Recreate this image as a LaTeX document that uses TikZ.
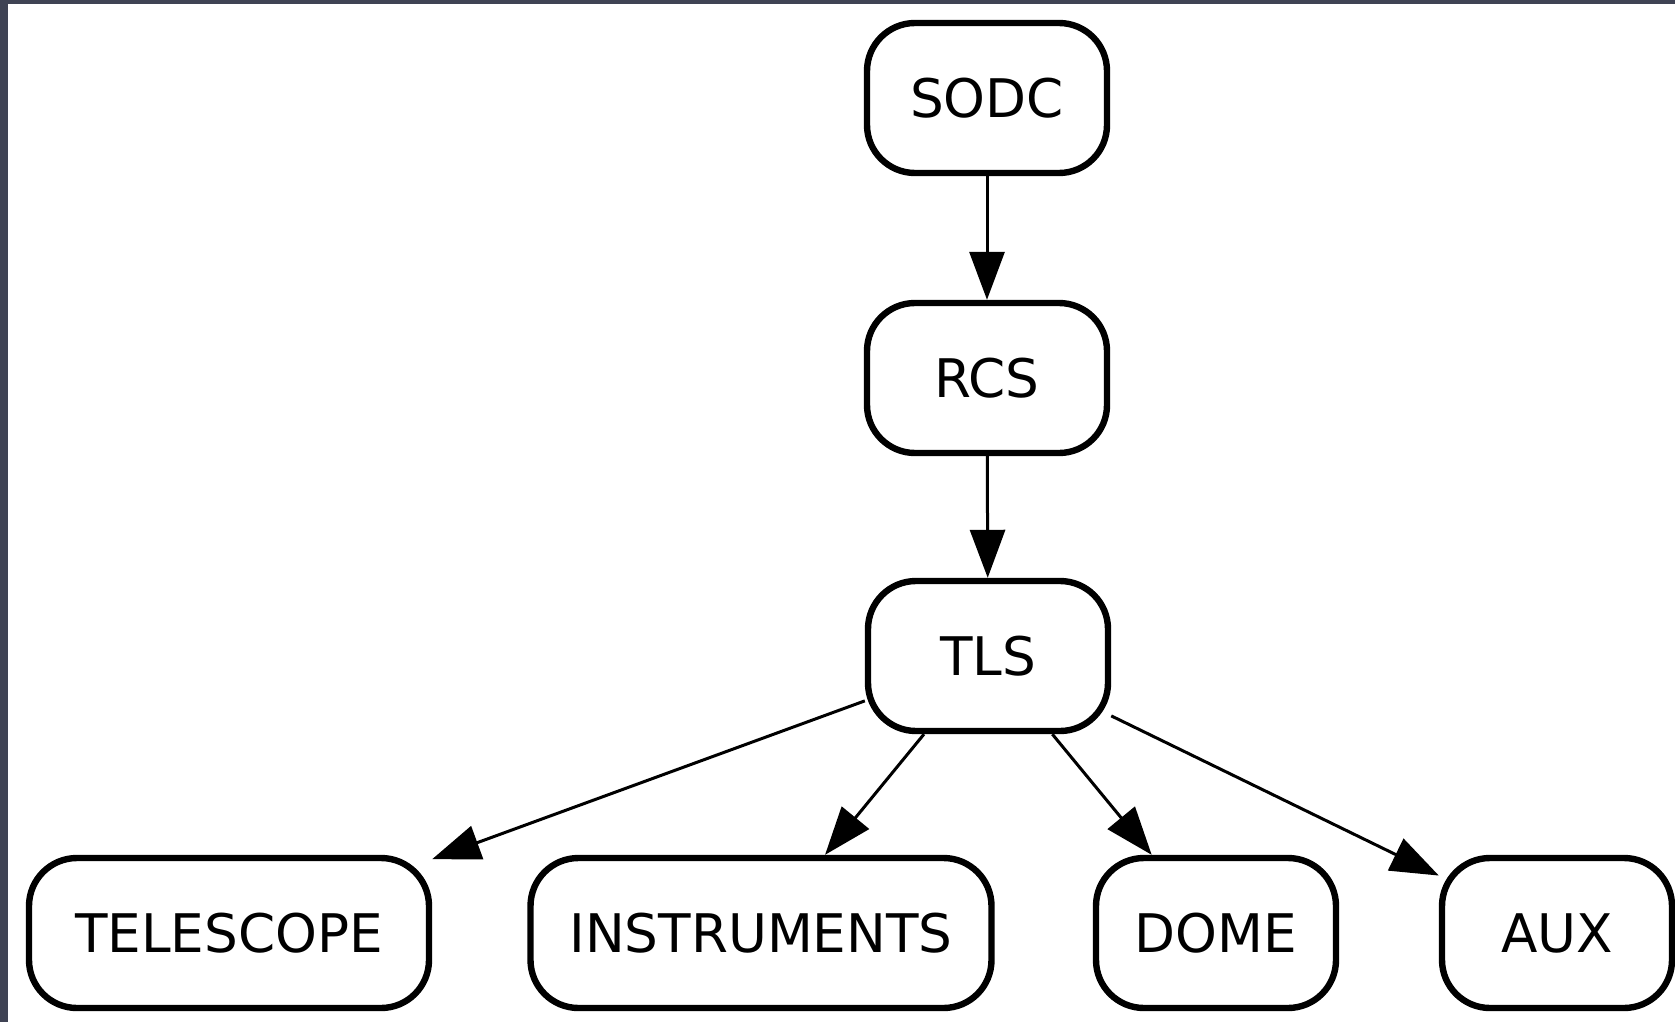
\documentclass[tikz,border=0pt]{standalone}
\usepackage{fontspec}
\setmainfont{DejaVu Sans}
\usetikzlibrary{arrows.meta}
\definecolor{frame}{HTML}{3F4354}
\begin{document}
\begin{tikzpicture}[x=0.5pt,y=-0.5pt,
  box/.style={draw=black, line width=3.2pt, rounded corners=24pt, fill=white,
    minimum height=75pt, inner sep=0pt, font=\fontsize{26.6}{30}\selectfont},
  edge/.style={line width=1.5pt, -{Triangle[length=24pt,width=17.5pt]}}]
\useasboundingbox (0,0) rectangle (1675,1022);
\fill[frame] (0,0) rectangle (1675,1022);
\fill[white] (8,4) rectangle (1675,1022);
\node[box, minimum width=120pt] (sodc) at (987,98) {SODC};
\node[box, minimum width=120pt] (rcs) at (987,378) {RCS};
\node[box, minimum width=120pt] (tls) at (988,656) {TLS};
\node[box, minimum width=200pt] (tel) at (229,933) {TELESCOPE};
\node[box, minimum width=230.5pt] (ins) at (761,933) {INSTRUMENTS};
\node[box, minimum width=120pt] (dome) at (1216,933) {DOME};
\node[box, minimum width=115pt] (aux) at (1557,933) {AUX};
\draw[edge] (sodc) -- (rcs);
\draw[edge] (rcs) -- (tls);
\draw[edge] (tls) -- (tel);
\draw[edge] (tls) -- (ins);
\draw[edge] (tls) -- (dome);
\draw[edge] (tls) -- (aux);
\end{tikzpicture}
\end{document}
